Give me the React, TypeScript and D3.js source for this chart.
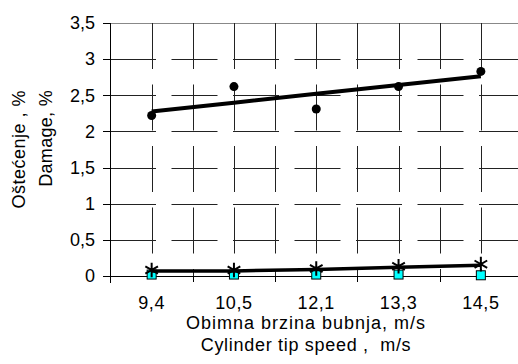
import React from 'react';
import * as d3 from 'd3';

// speeds on the category axis
const speeds = ['9,4', '10,5', '12,1', '13,3', '14,5'];
// damage, % (black circles, with linear trend)
const damage = [2.22, 2.62, 2.31, 2.62, 2.83];
// low series: asterisks (joined) and cyan squares
const lowStar = [0.07, 0.07, 0.09, 0.12, 0.15];
const lowSquare = [0.02, 0.02, 0.02, 0.02, 0.01];
const yTicks = [0, 0.5, 1, 1.5, 2, 2.5, 3, 3.5];

const W = 518;
const H = 364;
const left = 110;
const top = 23;
const bottom = 276;
const font = '"Liberation Sans", Arial, sans-serif';
const fs = 18;

export default function App() {
  const y = d3.scaleLinear().domain([0, 3.5]).range([bottom, top]);
  const x = d3.scaleBand().domain(speeds).range([left + 0.5, 522]).padding(0);
  const cx = (d: string) => (x(d) as number) + x.bandwidth() / 2;

  // least squares trend for damage
  const idx = damage.map((_, i) => i + 1);
  const mx = d3.mean(idx) as number;
  const my = d3.mean(damage) as number;
  const slope =
    d3.sum(idx.map((v, i) => (v - mx) * (damage[i] - my))) /
    d3.sum(idx.map((v) => (v - mx) * (v - mx)));
  const trend = (i: number) => my + slope * (i + 1 - mx);

  const trendLine = d3
    .line<string>()
    .x((d) => cx(d))
    .y((d, i) => y(trend(i)));
  const starLine = d3
    .line<string>()
    .x((d) => cx(d))
    .y((d, i) => y(lowStar[i]));

  const star = d3.symbol().type(d3.symbolAsterisk).size(150)();

  const boundaries = speeds.map((d) => x(d) as number).slice(1).concat([x.range()[1]]);
  const vLines = speeds.map(cx).concat(boundaries).filter((v) => v < W);

  return (
    <svg width={W} height={H} style={{ position: 'absolute', left: 0, top: 0, background: '#fff' }}>
      {/* horizontal grid */}
      {yTicks.slice(1, -1).map((t) => (
        <line key={'h' + t} x1={left} x2={W} y1={Math.round(y(t)) + 0.5} y2={Math.round(y(t)) + 0.5}
          stroke="#222" strokeDasharray="46 15.5" />
      ))}
      <line x1={left} x2={W} y1={top + 0.5} y2={top + 0.5} stroke="#888" />
      {/* vertical grid */}
      {vLines.map((v, i) => (
        <line key={'v' + i} x1={Math.round(v) + 0.5} x2={Math.round(v) + 0.5} y1={top} y2={bottom}
          stroke="#222" strokeDasharray="46 15.5" />
      ))}
      {/* axes */}
      <line x1={left + 0.5} x2={left + 0.5} y1={top} y2={283} stroke="#000" />
      <line x1={103} x2={W} y1={bottom + 0.5} y2={bottom + 0.5} stroke="#000" />
      {yTicks.map((t) => (
        <g key={'yt' + t}>
          <line x1={103} x2={left} y1={Math.round(y(t)) + 0.5} y2={Math.round(y(t)) + 0.5} stroke="#000" />
          <text x={95} y={y(t)} dy="0.35em" textAnchor="end" fontFamily={font} fontSize={fs}>
            {String(t).replace('.', ',')}
          </text>
        </g>
      ))}
      {boundaries.filter((v) => v < W).map((v, i) => (
        <line key={'xt' + i} x1={Math.round(v) + 0.5} x2={Math.round(v) + 0.5} y1={bottom} y2={282} stroke="#000" />
      ))}
      {speeds.map((d) => (
        <text key={'xl' + d} x={cx(d)} y={309} textAnchor="middle" fontFamily={font} fontSize={fs}
          letterSpacing={0.6}>
          {d}
        </text>
      ))}

      {/* damage series */}
      <path d={trendLine(speeds) as string} fill="none" stroke="#000" strokeWidth={4} />
      {speeds.map((d, i) => (
        <circle key={'c' + d} cx={cx(d)} cy={y(damage[i])} r={4.5} fill="#000" />
      ))}

      {/* low series */}
      {speeds.map((d, i) => (
        <rect key={'s' + d} x={cx(d) - 4.5} y={y(lowSquare[i]) - 4.5} width={9} height={9}
          fill="#00ffff" stroke="#000" strokeWidth={1} />
      ))}
      <path d={starLine(speeds) as string} fill="none" stroke="#000" strokeWidth={3.5} />
      {speeds.map((d, i) => (
        <path key={'a' + d} d={star as string} transform={`translate(${cx(d)},${y(lowStar[i]) - 1})`}
          fill="#000" stroke="#000" strokeWidth={2} />
      ))}

      {/* titles */}
      <text transform="translate(25,90) rotate(-90)" textAnchor="end" fontFamily={font} fontSize={fs}
        letterSpacing={0.5}>
        Oštećenje , %
      </text>
      <text transform="translate(52,90) rotate(-90)" textAnchor="end" fontFamily={font} fontSize={fs}
        letterSpacing={0.3}>
        Damage, %
      </text>
      <text x={306} y={329} textAnchor="middle" fontFamily={font} fontSize={fs} letterSpacing={1}>
        Obimna brzina bubnja, m/s
      </text>
      <text x={306} y={351} textAnchor="middle" fontFamily={font} fontSize={fs} letterSpacing={0.7}
        style={{ whiteSpace: 'pre' }}>
        {'Cylinder tip speed ,  m/s'}
      </text>
    </svg>
  );
}
